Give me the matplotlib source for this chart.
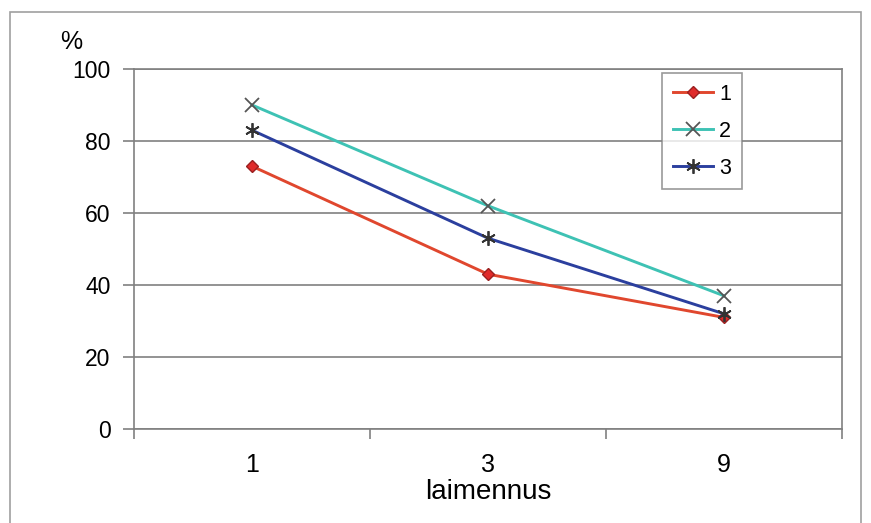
import numpy as np
import matplotlib.pyplot as plt
from matplotlib.patches import Rectangle

# dilution levels and the three series (%)
dilutions = ['1', '3', '9']
series_names = ['1', '2', '3']
s1 = [73, 43, 31]
s2 = [90, 62, 37]
s3 = [83, 53, 32]
yticks = [0, 20, 40, 60, 80, 100]

plt.rcParams['font.family'] = ['Liberation Sans', 'DejaVu Sans']

fig = plt.figure(figsize=(8.71, 5.23), dpi=100)
fig.patch.set_facecolor('white')
# outer frame of the chart
fig.patches.append(Rectangle((10/871, -0.05), 851/871, 1.05 - 12/523, transform=fig.transFigure,
                             fill=False, edgecolor='#a0a0a0', linewidth=1.2))

ax = fig.add_axes([134/871, 94/523, 708/871, 360/523])
x = np.arange(len(dilutions))

ax.plot(x, s1, '-', color='#e0472e', lw=2.1, marker='D', ms=6.5,
        markerfacecolor='#e02b2b', markeredgecolor='#9a2020', label=series_names[0])
ax.plot(x, s2, '-', color='#3ec2b4', lw=2.1, marker='x', ms=10, mew=1.3,
        markeredgecolor='#555555', label=series_names[1])
ax.plot(x, s3, '-', color='#2b3f9e', lw=2.1, marker=(6, 2, 0), ms=10.5, mew=1.3,
        markeredgecolor='#333333', label=series_names[2])

ax.set_xlim(-0.5, 2.5)
ax.set_ylim(0, 100)
ax.set_yticks(yticks)
ax.set_xticks(x)
ax.set_xticklabels(dilutions, fontsize=18)
ax.set_xticks([-0.5, 0.5, 1.5, 2.5], minor=True)
ax.tick_params(axis='x', which='major', length=0, pad=17)
ax.tick_params(axis='x', which='minor', length=7, width=1.2, color='#808080', direction='out')
ax.tick_params(axis='y', labelsize=16.5, length=8, width=1.2, color='#808080', pad=9)
ax.grid(axis='y', color='#808080', lw=1.2)
ax.set_axisbelow(True)
for sp in ax.spines.values():
    sp.set_color('#808080')
    sp.set_linewidth(1.2)

ax.set_xlabel('laimennus', fontsize=20, labelpad=2)
fig.text(71/871, 1 - 42/523, '%', fontsize=18, ha='center', va='center')

leg = ax.legend(loc='upper left', bbox_to_anchor=((662 - 134)/708, 1 - 4/360), fontsize=15.5,
                frameon=True, fancybox=False, handlelength=1.85, handletextpad=0.3,
                borderpad=0.5, labelspacing=0.74, borderaxespad=0)
leg.get_frame().set_edgecolor('#808080')
leg.get_frame().set_linewidth(1.2)

fig.savefig('out.png', dpi=100)
